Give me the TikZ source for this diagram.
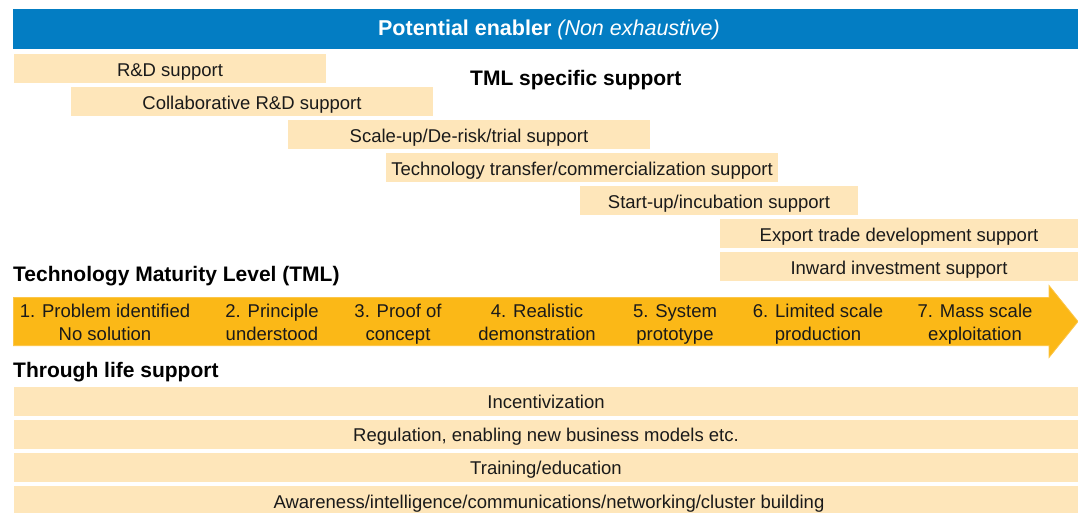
\documentclass[tikz,border=0pt]{standalone}
\usepackage{fontspec}
\setmainfont{Liberation Sans}
\usetikzlibrary{positioning}
\definecolor{enablerblue}{HTML}{037DC3}
\definecolor{supporttan}{HTML}{FEE6BA}
\definecolor{tmlgold}{HTML}{FBB817}
\definecolor{tmledge}{HTML}{FCC64A}
\definecolor{inktext}{HTML}{1A1A1A}
% two centred lines whose baseline is the first line's
\newcommand{\stagetext}[2]{{\setlength{\tabcolsep}{0pt}%
  \begin{tabular}[t]{c}#1\\#2\end{tabular}}}
\tikzset{
  bodyfont/.style={font=\fontsize{18.5}{23}\selectfont, text=inktext},
  tanbox/.style={bodyfont, fill=supporttan, draw=none, inner sep=0pt,
    minimum height=29pt, text height=16pt, text depth=1pt, anchor=center},
  lifebar/.style={tanbox, minimum width=1064pt, minimum height=29pt},
  heading/.style={font=\fontsize{21}{24}\selectfont\bfseries, text=black,
    inner sep=0pt},
  tmllabel/.style={bodyfont, inner sep=0pt, anchor=base}
}
\begin{document}
\begin{tikzpicture}[x=1pt,y=-1pt]
  \useasboundingbox (0,0) rectangle (1078,512);
  \clip (0,0) rectangle (1078,512);

  % header bar
  \fill[enablerblue] (13,9) rectangle (1078,48.5);
  \node[font=\fontsize{21.5}{24}\selectfont, text=white, inner sep=0pt,
    anchor=base] (enabler) at (549,35) {\textbf{Potential enabler} \textit{(Non exhaustive)}};

  % TML specific support
  \node[heading, anchor=base west] (tmlspec) at (470,85) {TML specific support};
  \node[tanbox, minimum width=312pt] (rd) at (170,68.5) {R\&D support};
  \node[tanbox, minimum width=362pt] (collab) at (252,101.5) {Collaborative R\&D support};
  \node[tanbox, minimum width=362pt] (scaleup) at (469,134.5) {Scale-up/De-risk/trial support};
  \node[tanbox, minimum width=392pt] (transfer) at (582,167.5) {Technology transfer/commercialization support};
  \node[tanbox, minimum width=278pt] (startup) at (719,200.5) {Start-up/incubation support};
  \node[tanbox, minimum width=358pt] (export) at (899,233.5) {Export trade development support};
  \node[tanbox, minimum width=358pt] (inward) at (899,266.5) {Inward investment support};

  % maturity levels arrow
  \node[heading, anchor=base west] (tmlhead) at (13,281) {Technology Maturity Level (TML)};
  \filldraw[fill=tmlgold, draw=tmledge, line width=0.8pt]
    (13.4,297.4) -- (1049,297.4) -- (1049,285.5) -- (1078,321.5)
    -- (1049,357.5) -- (1049,345.6) -- (13.4,345.6) -- cycle;
  \node[tmllabel] (lvl1) at (105,317.3) {\stagetext{1. Problem identified}{No solution}};
  \node[tmllabel] (lvl2) at (272,317.3) {\stagetext{2. Principle}{understood}};
  \node[tmllabel] (lvl3) at (398,317.3) {\stagetext{3. Proof of}{concept}};
  \node[tmllabel] (lvl4) at (537,317.3) {\stagetext{4. Realistic}{demonstration}};
  \node[tmllabel] (lvl5) at (675,317.3) {\stagetext{5. System}{prototype}};
  \node[tmllabel] (lvl6) at (818,317.3) {\stagetext{6. Limited scale}{production}};
  \node[tmllabel] (lvl7) at (975,317.3) {\stagetext{7. Mass scale}{exploitation}};

  % through life support
  \node[heading, anchor=base west] (lifehead) at (13,377) {Through life support};
  \node[lifebar] (incent) at (546,401.2) {Incentivization};
  \node[lifebar] (regul) at (546,434.4) {Regulation, enabling new business models etc.};
  \node[lifebar] (train) at (546,467.4) {Training/education};
  \node[lifebar, minimum height=30pt] (aware) at (546,501) {};
  \node[bodyfont, inner sep=0pt, text height=16pt, text depth=1pt] (awaretext)
    at (549,500.5) {Awareness/intelligence/communications/networking/cluster building};
\end{tikzpicture}
\end{document}
